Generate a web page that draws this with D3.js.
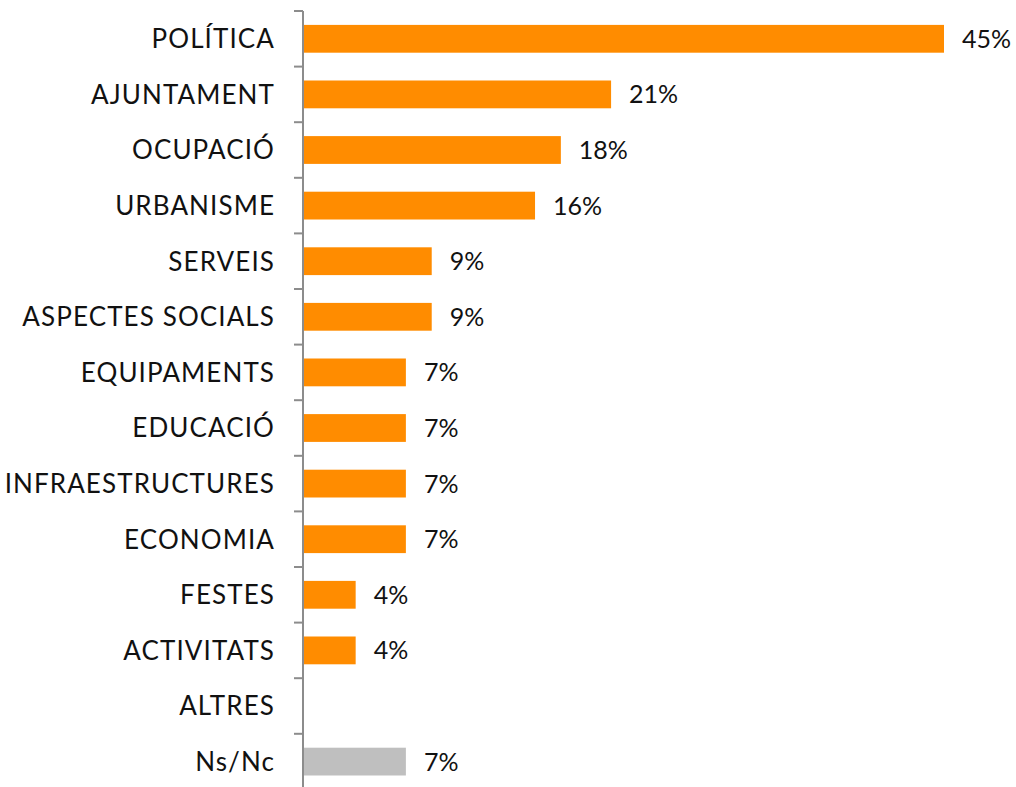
<!DOCTYPE html>
<html>
<head>
<meta charset="utf-8">
<script src="https://cdn.jsdelivr.net/npm/d3@7"></script>
<style>
  body { margin: 0; background: #fff; }
  text { font-family: "Lato", sans-serif; font-weight: 400; fill: #111; }
</style>
</head>
<body>
<div id="chart"></div>
<script>
var categories = ["POLÍTICA", "AJUNTAMENT", "OCUPACIÓ", "URBANISME", "SERVEIS",
  "ASPECTES SOCIALS", "EQUIPAMENTS", "EDUCACIÓ", "INFRAESTRUCTURES", "ECONOMIA",
  "FESTES", "ACTIVITATS", "ALTRES", "Ns/Nc"];
var values = [44.6, 21.4, 17.9, 16.1, 8.9, 8.9, 7.1, 7.1, 7.1, 7.1, 3.6, 3.6, 0, 7.1];
var barColors = ["#FF8C00", "#FF8C00", "#FF8C00", "#FF8C00", "#FF8C00", "#FF8C00", "#FF8C00",
  "#FF8C00", "#FF8C00", "#FF8C00", "#FF8C00", "#FF8C00", "#FF8C00", "#BFBFBF"];

var width = 1016, height = 787;
var marginLeft = 303, marginTop = 11;

var svg = d3.select("#chart").append("svg")
  .attr("width", width)
  .attr("height", height);

// category bands, 14 rows of ~55.6px
var y = d3.scaleBand()
  .domain(categories)
  .range([marginTop, marginTop + 55.6 * categories.length])
  .paddingInner(0.5)
  .paddingOuter(0.25);

var x = d3.scaleLinear()
  .domain([0, d3.max(values)])
  .range([marginLeft + 1, 944]);

/***** Bars *****/
svg.append("g").selectAll("rect")
  .data(categories)
  .enter().append("rect")
  .attr("x", x(0))
  .attr("y", (d) => y(d))
  .attr("height", y.bandwidth())
  .attr("width", (d, i) => x(values[i]) - x(0))
  .attr("fill", (d, i) => barColors[i]);

/***** Value labels *****/
var fmt = (v) => d3.format(".0f")(v) + "%";
svg.append("g").selectAll("text")
  .data(categories.filter((d, i) => values[i] > 0))
  .enter().append("text")
  .attr("x", (d) => x(values[categories.indexOf(d)]) + 18)
  .attr("y", (d) => y(d) + y.bandwidth() / 2)
  .attr("dy", "0.36em")
  .style("font-size", "25px")
  .text((d) => fmt(values[categories.indexOf(d)]));

/***** Axis *****/
var step = y.step();
var axisGroup = svg.append("g");
axisGroup.append("line")
  .attr("x1", marginLeft).attr("x2", marginLeft)
  .attr("y1", marginTop).attr("y2", marginTop + step * categories.length)
  .attr("stroke", "#8c8c8c").attr("stroke-width", 2);
axisGroup.selectAll(".tick")
  .data(d3.range(categories.length + 1))
  .enter().append("line")
  .attr("x1", marginLeft - 9).attr("x2", marginLeft)
  .attr("y1", (i) => marginTop + i * step)
  .attr("y2", (i) => marginTop + i * step)
  .attr("stroke", "#8c8c8c").attr("stroke-width", 2);

/***** Category labels *****/
svg.append("g").selectAll("text")
  .data(categories)
  .enter().append("text")
  .attr("x", 275)
  .attr("y", (d) => y(d) + y.bandwidth() / 2)
  .attr("dy", "0.36em")
  .attr("text-anchor", "end")
  .style("font-size", "26px")
  .style("letter-spacing", "1.1px")
  .text((d) => d);
</script>
</body>
</html>
